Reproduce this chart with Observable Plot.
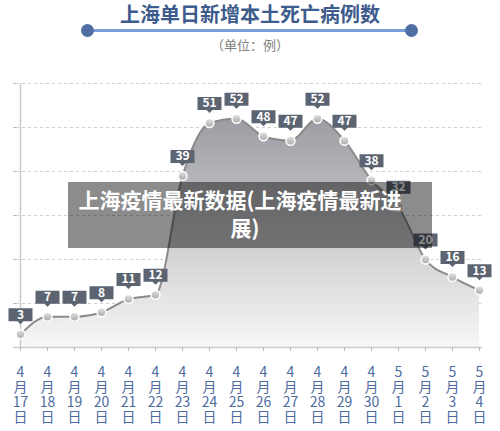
<!DOCTYPE html>
<html>
<head>
<meta charset="utf-8">
<script src="https://cdn.jsdelivr.net/npm/d3@7"></script>
<script src="https://cdn.jsdelivr.net/npm/@observablehq/plot@0.6"></script>
<style>
  body { margin: 0; background: #fff; font-family: "Noto Sans CJK SC", "Noto Sans", sans-serif; }
  #wrap { position: relative; width: 500px; height: 431px; overflow: hidden; background: #fff; }
  #title { position: absolute; left: 0; top: 2px; width: 500px; text-align: center; font-size: 20px; font-weight: bold; color: #3d5b8c; line-height: 24px; }
  #bar { position: absolute; left: 87px; top: 28.5px; width: 324px; height: 3px; background: #7aa0d8; }
  .knob { position: absolute; top: 23.5px; width: 13px; height: 13px; border-radius: 50%; background: #4f6fa3; }
  #sub { position: absolute; left: 0; top: 37px; width: 500px; text-align: center; font-size: 13px; color: #808080; line-height: 16px; }
  #chart { position: absolute; left: 0; top: 65px; }
  #wm { position: absolute; left: 68px; top: 182px; width: 364px; height: 66px; background: rgba(0,0,0,0.45); color: #fff; font-size: 21px; font-weight: bold; line-height: 28px; padding-top: 3px; box-sizing: border-box; }
  #wm div { text-align: center; white-space: nowrap; }
</style>
</head>
<body>
<div id="wrap">
  <div id="title">上海单日新增本土死亡病例数</div>
  <div id="bar"></div>
  <div class="knob" style="left:80.5px"></div>
  <div class="knob" style="left:404.5px"></div>
  <div id="sub">（单位：例）</div>
  <div id="chart"></div>
  <div id="wm"><div style="margin-right:20px">上海疫情最新数据(上海疫情最新进</div><div style="margin-right:10px">展)</div></div>
</div>
<script>
const months = [4, 4, 4, 4, 4, 4, 4, 4, 4, 4, 4, 4, 4, 4, 5, 5, 5, 5];
const days = [17, 18, 19, 20, 21, 22, 23, 24, 25, 26, 27, 28, 29, 30, 1, 2, 3, 4];
const deaths = [3, 7, 7, 8, 11, 12, 39, 51, 52, 48, 47, 52, 47, 38, 32, 20, 16, 13];
const yTicks = [0, 10, 20, 30, 40, 50, 60];

const labels = months.map((m, i) => `${m}月${days[i]}日`);
const data = labels.map((d, i) => ({ date: d, value: deaths[i] }));

function defs() {
  const ns = "http://www.w3.org/2000/svg";
  const d = document.createElementNS(ns, "defs");
  function grad(id, stops) {
    const g = document.createElementNS(ns, "linearGradient");
    g.setAttribute("id", id);
    g.setAttribute("x1", "0"); g.setAttribute("y1", "0");
    g.setAttribute("x2", "0"); g.setAttribute("y2", "1");
    for (const [o, c] of stops) {
      const s = document.createElementNS(ns, "stop");
      s.setAttribute("offset", o);
      s.setAttribute("stop-color", c);
      g.appendChild(s);
    }
    d.appendChild(g);
  }
  grad("areaGrad", [["0", "#9c9da2"], ["0.55", "#cfcfd2"], ["1", "#f7f7f7"]]);
  grad("dotGrad", [["0", "#e4e4e4"], ["1", "#a9a9a9"]]);
  const g = document.createElementNS(ns, "g");
  g.appendChild(d);
  return g;
}

const labelBox = {
  draw(ctx) {
    const w = 12, top = -26, bot = -13;
    ctx.moveTo(-w, top);
    ctx.lineTo(w, top);
    ctx.lineTo(w, bot);
    ctx.lineTo(3, bot);
    ctx.lineTo(0, bot + 3);
    ctx.lineTo(-3, bot);
    ctx.lineTo(-w, bot);
    ctx.closePath();
  }
};

const chart = Plot.plot({
  width: 500,
  height: 366,
  marginTop: 18,
  marginBottom: 84,
  marginLeft: 16,
  marginRight: 18,
  style: { fontFamily: "'Noto Sans CJK SC', 'Noto Sans', sans-serif", background: "transparent", overflow: "visible" },
  x: { type: "point", domain: labels, padding: 0 },
  y: { domain: [0, 60] },
  marks: [
    defs,
    Plot.gridY(yTicks, { stroke: "#cfcfcf", strokeOpacity: 1, strokeDasharray: "3,3" }),
    Plot.areaY(data, { x: "date", y: "value", curve: "monotone-x", fill: "url(#areaGrad)" }),
    Plot.lineY(data, { x: "date", y: "value", curve: "monotone-x", stroke: "#8a8a8a", strokeWidth: 2 }),
    Plot.ruleX([labels[0]], { y1: 0, y2: 60, stroke: "#cccccc", strokeWidth: 1.5 }),
    Plot.axisY(yTicks, { tickFormat: () => "", tickSize: 3, stroke: "#bbbbbb", label: null }),
    Plot.ruleY([0], { stroke: "#cccccc", strokeWidth: 1.5 }),
    Plot.axisX({
      tickSize: 4,
      tickPadding: 14.5,
      stroke: "#bbbbbb",
      fill: "#4d6ca0",
      fontSize: 14,
      lineHeight: 1.07,
      label: null,
      tickFormat: d => {
        const i = labels.indexOf(d);
        return `${months[i]}\n月\n${days[i]}\n日`;
      }
    }),
    Plot.dot(data, { x: "date", y: "value", r: 4.5, fill: "url(#dotGrad)", stroke: "white", strokeWidth: 1.5 }),
    Plot.dot(data, { x: "date", y: "value", symbol: labelBox, r: 5, fill: "#5c6472", stroke: "none" }),
    Plot.text(data, { x: "date", y: "value", text: d => String(d.value), dy: -19.5, fill: "white", fontWeight: "bold", fontSize: 12 })
  ]
});
document.getElementById("chart").appendChild(chart);
</script>
</body>
</html>
